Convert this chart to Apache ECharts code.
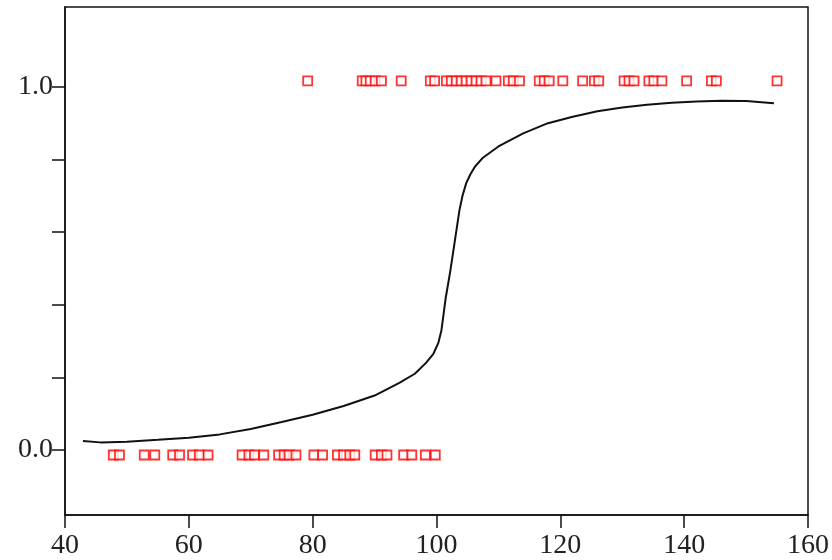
<!DOCTYPE html>
<html>
<head>
<meta charset="utf-8">
<script src="https://cdn.jsdelivr.net/npm/echarts@6/dist/echarts.min.js"></script>
<style>html,body{margin:0;padding:0;background:#fff;}#c{width:832px;height:560px;}</style>
</head>
<body>
<div id="c"></div>
<script>
// Observed outcomes = 1
var onesX = [79.2, 88.0, 88.6, 89.3, 90.1, 91.1, 94.3, 99.0, 99.7, 101.6, 102.4, 103.2, 104.0, 104.8,
  105.6, 106.4, 107.2, 108.0, 109.6, 111.6, 112.4, 113.4, 116.6, 117.4, 118.2, 120.4, 123.6,
  125.5, 126.2, 130.3, 131.1, 131.9, 134.3, 135.1, 136.4, 140.4, 144.4, 145.2, 155.0];
// Observed outcomes = 0
var zerosX = [47.8, 48.8, 52.8, 54.5, 57.4, 58.5, 60.6, 61.7, 63.1, 68.6, 69.7, 70.6, 72.1, 74.5,
  75.4, 76.2, 77.3, 80.2, 81.6, 84.0, 85.0, 86.0, 86.8, 90.1, 91.1, 92.0, 94.7, 96.0, 98.2, 99.8];
// Fitted curve
var curveX = [42.9, 45.7, 50, 55, 60, 65, 70, 75, 80, 85, 90, 94, 96.5, 98.3, 99.5, 100.3, 100.8,
  101.5, 102.2, 103, 103.7, 104.2, 104.8, 105.5, 106.2, 107.5, 110, 114, 118, 122, 126, 130, 134,
  138, 142, 146, 150, 154.5];
var curveY = [0.025, 0.021, 0.023, 0.028, 0.034, 0.043, 0.058, 0.077, 0.097, 0.121, 0.150, 0.185,
  0.210, 0.240, 0.265, 0.295, 0.33, 0.42, 0.49, 0.58, 0.66, 0.70, 0.735, 0.76, 0.78, 0.805, 0.836,
  0.872, 0.900, 0.918, 0.933, 0.943, 0.951, 0.956, 0.960, 0.962, 0.961, 0.955];
var xTicks = [40, 60, 80, 100, 120, 140, 160];
var yTicks = [0, 0.2, 0.4, 0.6, 0.8, 1.0];
var yLabels = [0, 1.0];

var font = 'Liberation Serif';
var chart = echarts.init(document.getElementById('c'), null, {renderer: 'canvas'});
chart.setOption({
  animation: false,
  backgroundColor: '#fff',
  grid: {left: 65, right: 15, top: 7, bottom: 45, show: true, borderColor: '#111', borderWidth: 1.5, backgroundColor: 'transparent'},
  xAxis: {
    type: 'value', min: 40, max: 160, interval: 20,
    axisLine: {show: true, onZero: false, lineStyle: {color: '#111', width: 1.5}},
    axisTick: {show: true, length: 13, lineStyle: {color: '#111', width: 1.5}},
    axisLabel: {show: true, margin: 17, color: '#222', fontFamily: font, fontSize: 28, showMinLabel: true, showMaxLabel: true},
    splitLine: {show: false}
  },
  yAxis: {
    type: 'value', min: -0.179, max: 1.22,
    axisLine: {show: true, onZero: false, lineStyle: {color: '#111', width: 1.5}},
    axisTick: {show: true, length: 13, customValues: yTicks, lineStyle: {color: '#111', width: 1.5}},
    axisLabel: {show: true, margin: 12, color: '#222', fontFamily: font, fontSize: 28, customValues: yLabels,
      formatter: function (v) { return Number(v).toFixed(1); }},
    splitLine: {show: false}
  },
  series: [
    {
      type: 'line', data: curveX.map(function (x, i) { return [x, curveY[i]]; }),
      showSymbol: false, smooth: false,
      lineStyle: {color: '#111', width: 2}, z: 2
    },
    {
      type: 'scatter', data: onesX.map(function (x) { return [x, 1]; }),
      symbol: 'rect', symbolSize: 9, symbolOffset: [0, -6],
      itemStyle: {color: '#fff', borderColor: '#f00', borderWidth: 1.8}, z: 3
    },
    {
      type: 'scatter', data: zerosX.map(function (x) { return [x, 0]; }),
      symbol: 'rect', symbolSize: 9, symbolOffset: [0, 5],
      itemStyle: {color: '#fff', borderColor: '#f00', borderWidth: 1.8}, z: 3
    }
  ]
});
</script>
</body>
</html>
